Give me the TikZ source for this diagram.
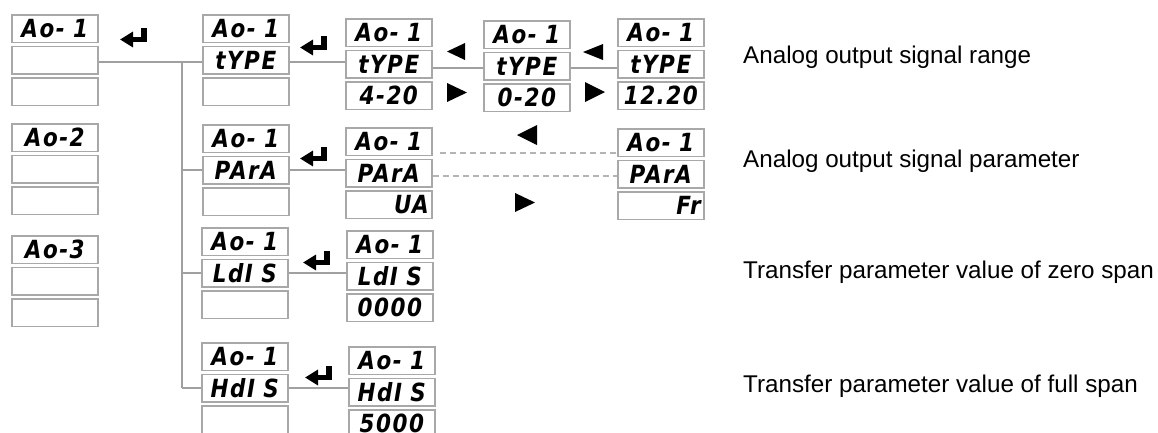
\documentclass[tikz,border=0pt]{standalone}
\usepackage{fontspec}
\setmainfont{Liberation Sans}
\newfontfamily\lcdfont[FakeStretch=0.86,LetterSpace=6]{DejaVu Sans}
\usetikzlibrary{arrows.meta}
\definecolor{boxgray}{HTML}{A8A8A8}
\definecolor{linegray}{HTML}{A0A0A0}
\definecolor{dashgray}{HTML}{B4B4B4}
\tikzset{
  cell/.style={draw=boxgray, line width=1.6pt, anchor=north west, inner xsep=3pt, inner ysep=0pt,
    text width=80pt, minimum height=27.5pt, align=center,
    font=\lcdfont\bfseries\itshape\fontsize{25}{25}\selectfont},
  cellr/.style={cell, align=right},
  conn/.style={draw=linegray, line width=1.5pt},
  dconn/.style={draw=dashgray, line width=1.5pt, dash pattern=on 6pt off 4pt},
  lab/.style={anchor=base west, inner sep=0pt, font=\fontsize{24.2}{24.2}\selectfont},
  tri/.style={fill=black},
  enterk/.style={draw=black, line width=5.5pt, line join=miter, -{Triangle[length=13pt,width=15pt]}}
}
\newcommand\lcdpanel[7][cell]{%
  \node[cell] (#2-1) at (#3,#4) {#5};
  \node[cell] (#2-2) at (#3,#4+31.5) {#6};
  \node[#1] (#2-3) at (#3,#4+63) {#7};
}
\newcommand\enterkey[2]{%
  \draw[enterk] (#1+24,#2) -- (#1+24,#2+11.5) -- (#1,#2+11.5);
}
\begin{document}
\begin{tikzpicture}[x=1pt,y=-1pt]
\useasboundingbox (0,0) rectangle (1158,432);
% left column
\lcdpanel{Pa}{11}{14}{Ao- 1}{}{}
\lcdpanel{Pb}{11}{123}{Ao-2}{}{}
\lcdpanel{Pc}{11}{235}{Ao-3}{}{}
% second column
\lcdpanel{Qa}{202}{14}{Ao- 1}{tYPE}{}
\lcdpanel{Qb}{202}{124}{Ao- 1}{PArA}{}
\lcdpanel{Qc}{201}{227}{Ao- 1}{LdI S}{}
\lcdpanel{Qd}{201}{342}{Ao- 1}{HdI S}{}
% third column
\lcdpanel{Ra}{345}{18}{Ao- 1}{tYPE}{4-20}
\lcdpanel[cellr]{Rb}{345}{127}{Ao- 1}{PArA}{UA}
\lcdpanel{Rc}{346}{230}{Ao- 1}{LdI S}{0000}
\lcdpanel{Rd}{348}{346}{Ao- 1}{HdI S}{5000}
% fourth / fifth
\lcdpanel{Sa}{483}{20}{Ao- 1}{tYPE}{0-20}
\lcdpanel{Ta}{617}{18}{Ao- 1}{tYPE}{12.20}
\lcdpanel[cellr]{Tb}{617}{128}{Ao- 1}{PArA}{Fr}
% enter keys
\enterkey{120}{28}
\enterkey{300}{36}
\enterkey{300}{147}
\enterkey{303}{251}
\enterkey{305}{366}
% triangles
\fill[tri] (447,51.5) -- (465,43) -- (465,60) -- cycle;
\fill[tri] (467,92.5) -- (447,83) -- (447,102) -- cycle;
\fill[tri] (583,52) -- (603,44) -- (603,60) -- cycle;
\fill[tri] (605,92) -- (585,82) -- (585,102) -- cycle;
\fill[tri] (517,135) -- (537,125) -- (537,145) -- cycle;
\fill[tri] (535,202.5) -- (515,193) -- (515,212) -- cycle;
% connectors
\coordinate (J) at (182,0);
\draw[conn] ([yshift=-2pt]Pa-2.east) -- ([yshift=-2pt]Pa-2.east -| Qa-2.west);
\draw[conn] (J |- Qa-2.west) ++(0,2) -- (J |- Qd-2.west);
\draw[conn] (J |- Qb-2.west) -- (Qb-2.west);
\draw[conn] (J |- Qc-2.west) -- (Qc-2.west);
\draw[conn] (J |- Qd-2.west) -- (Qd-2.west);
\draw[conn] ([yshift=-2pt]Qa-2.east) -- ([yshift=-2pt]Qa-2.east -| Ra-2.west);
\draw[conn] ([yshift=-4pt]Ra-2.east) -- ([yshift=-4pt]Ra-2.east -| Sa-2.west);
\draw[conn] ([yshift=-2pt]Sa-2.east) -- ([yshift=-2pt]Sa-2.east -| Ta-2.west);
\draw[conn] (Qb-2.east) -- (Qb-2.east -| Rb-2.west);
\draw[conn] (Qc-2.east) -- (Qc-2.east -| Rc-2.west);
\draw[conn] (Qd-2.east) -- (Qd-2.east -| Rd-2.west);
\draw[dconn] ([xshift=7pt,yshift=3pt]Rb-1.south east) -- ([yshift=3pt]Rb-1.south east -| Tb-1.west);
\draw[dconn] ([yshift=-3pt]Rb-2.east) -- ([yshift=-3pt]Rb-2.east -| Tb-2.west);
% labels
\node[lab] (L1) at (743,63) {Analog output signal range};
\node[lab] (L2) at (743,167) {Analog output signal parameter};
\node[lab] (L3) at (743,278) {Transfer parameter value of zero span};
\node[lab] (L4) at (743,392) {Transfer parameter value of full span};
\end{tikzpicture}
\end{document}
